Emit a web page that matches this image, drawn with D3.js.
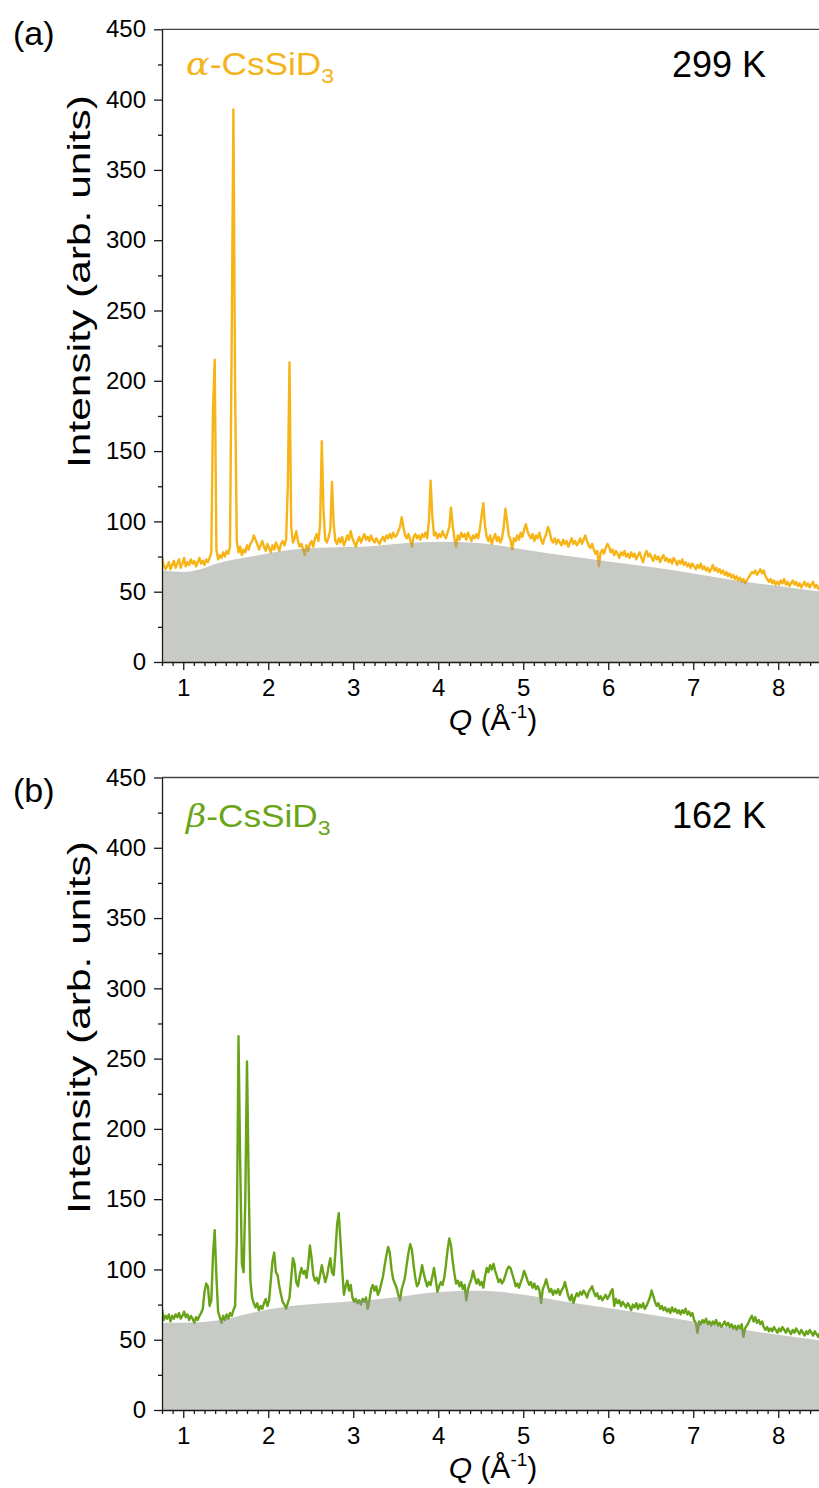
<!DOCTYPE html>
<html>
<head>
<meta charset="utf-8">
<script src="https://cdn.jsdelivr.net/npm/d3@7"></script>
<style>
  body { margin: 0; background: #fff; }
  svg { display: block; }
  text { font-family: "Liberation Sans", Arial, sans-serif; fill: #000; }
</style>
</head>
<body>
<svg id="fig" width="819" height="1488"></svg>
<script>
// Neutron diffraction patterns of CsSiD3, sampled on a uniform Q grid
const qStart = 0.75;
const qStep = 0.02;

// alpha phase, 299 K
const alphaIntensity = [
  75,69,66,68,71,66,69,72,67,70,
  73,67,70,74,68,71,69,73,70,72,
  68,71,74,70,72,69,73,71,74,78,
  180,215,80,73,76,74,78,75,79,77,
  82,230,393,195,86,78,82,76,80,78,
  83,80,84,86,90,87,84,80,83,86,
  82,79,84,81,78,83,80,85,82,79,
  84,86,83,87,125,213,96,85,88,93,
  86,82,84,80,76,83,79,84,86,82,
  88,91,86,98,157,108,87,85,89,94,
  128,98,86,84,88,85,89,83,86,90,
  87,93,88,85,82,86,89,85,88,91,
  87,89,86,90,87,85,88,86,84,87,
  89,86,90,88,91,88,92,89,90,93,
  96,103,96,90,88,91,87,82,89,91,
  88,90,87,91,89,92,88,100,129,104,
  90,92,88,91,89,93,90,88,92,96,
  110,97,88,82,90,87,92,89,91,87,
  92,89,86,90,88,91,88,95,104,113,
  97,89,86,90,84,88,91,86,89,85,
  88,96,109,100,90,87,80,88,86,90,
  87,92,89,94,98,93,90,88,91,86,
  90,88,92,87,84,88,91,96,93,87,
  85,88,84,87,85,83,87,84,86,82,
  85,88,84,86,83,85,88,84,87,90,
  86,83,81,84,80,77,79,68,78,80,
  77,81,84,82,78,80,76,79,77,74,
  78,76,79,75,77,74,78,75,77,73,
  76,78,74,71,76,79,75,77,74,72,
  76,73,75,71,74,76,72,74,71,73,
  70,74,72,69,72,70,73,69,71,68,
  70,67,70,68,66,69,67,70,66,68,
  65,67,64,66,69,65,67,64,66,63,
  65,62,64,61,63,60,62,59,61,58,
  60,57,59,56,58,60,62,64,63,65,
  62,64,66,63,65,61,59,57,59,56,
  58,55,57,55,58,56,59,55,57,54,
  56,58,55,57,54,56,53,55,57,54,
  56,53,55,57,53,55,52,54,55
];

// beta phase, 162 K
const betaIntensity = [
  72,64,67,65,68,63,67,65,68,66,
  69,65,67,70,66,68,64,67,65,62,
  66,64,67,69,72,84,90,88,74,78,
  110,128,95,70,66,62,67,64,68,65,
  69,67,71,74,120,266,175,104,98,150,
  248,160,92,80,76,73,76,71,74,72,
  76,79,74,78,92,106,112,98,96,88,
  82,77,75,72,76,80,94,108,104,91,
  88,96,101,97,99,94,103,117,108,96,
  92,94,90,96,103,97,91,95,102,108,
  98,96,112,132,140,120,100,82,88,92,
  85,89,80,77,79,76,78,75,79,77,
  80,72,78,86,89,85,88,82,85,90,
  95,103,110,116,112,100,93,90,87,82,
  78,86,90,95,104,112,118,114,103,94,
  88,90,96,103,97,92,88,91,89,95,
  101,93,84,88,91,89,94,103,114,122,
  117,106,97,90,92,88,91,86,89,78,
  86,90,93,99,94,90,93,89,91,87,
  95,101,98,103,100,104,99,95,91,93,
  90,92,96,100,102,101,97,93,88,90,
  87,91,94,99,96,92,89,91,87,90,
  86,88,85,76,86,89,93,88,84,86,
  82,85,83,86,82,85,87,91,86,81,
  78,82,76,80,83,81,84,82,85,83,
  80,84,86,88,84,81,83,79,81,78,
  80,82,79,81,84,86,74,79,76,78,
  74,77,75,73,76,74,71,75,73,76,
  72,75,73,76,72,74,77,80,85,81,
  77,74,76,72,74,71,73,70,72,69,
  73,70,72,69,71,68,71,69,72,68,
  70,67,69,64,62,55,63,61,64,62,
  65,61,63,60,63,61,64,60,62,59,
  61,63,60,62,59,61,58,60,57,60,
  58,61,52,58,60,62,65,67,63,66,
  62,64,61,63,59,57,59,56,58,56,
  59,57,55,58,56,59,57,55,58,56,
  54,57,55,58,56,54,57,55,53,56,
  54,57,55,53,56,54,52,55,54
];

// Smooth background (shaded) under each pattern
const alphaBgQ = [0.75, 1.0, 1.2, 1.4, 1.8, 2.3, 2.7, 3.1, 3.5, 4.0, 4.5, 5.0, 5.5, 6.0, 6.5, 7.0, 7.5, 8.0, 8.5];
const alphaBg  = [65, 64, 66, 70, 75, 80, 81.5, 82, 84, 85.5, 84.5, 80, 75.5, 71.5, 67.5, 63, 58, 54, 50];
const betaBgQ  = [0.75, 1.2, 1.45, 1.8, 2.2, 2.8, 3.2, 3.6, 4.0, 4.5, 5.0, 5.5, 6.0, 6.5, 7.0, 7.5, 8.0, 8.5];
const betaBg   = [62, 62.5, 64, 69, 73.5, 76.5, 78.3, 81, 84, 84.8, 82, 77, 72.5, 67.8, 63, 58, 53.5, 49.5];

// Axis ranges and tick labels
const qDomain = [0.75, 8.5];
const intensityDomain = [0, 450];
const qTicks = [1, 2, 3, 4, 5, 6, 7, 8];
const intensityTicks = [0, 50, 100, 150, 200, 250, 300, 350, 400, 450];

const panels = [
  { letter: "(a)", greek: "\u03B1", temp: "299 K", color: "#F7B416", labelColor: "#F5B31B",
    intensity: alphaIntensity, bgQ: alphaBgQ, bg: alphaBg,
    top: 29.3, bottom: 662, letterY: 45, labelY: 75, tempY: 77, titleY: 281.5 },
  { letter: "(b)", greek: "\u03B2", temp: "162 K", color: "#68A318", labelColor: "#6AA517",
    intensity: betaIntensity, bgQ: betaBgQ, bg: betaBg,
    top: 777.5, bottom: 1410, letterY: 802, labelY: 827, tempY: 828, titleY: 1027.5 }
];

const svg = d3.select("#fig");
const left = 162;
const right = 162 + (qDomain[1] - qDomain[0]) * 85;
const axisColor = "#1a1a1a";
const sans = '"Liberation Sans", Arial, sans-serif';

panels.forEach((p, k) => {
  const x = d3.scaleLinear().domain(qDomain).range([left, right]);
  const y = d3.scaleLinear().domain(intensityDomain).range([p.bottom, p.top]);

  const pts = p.intensity.map((v, i) => ({ q: qStart + i * qStep, v }));
  const bgPts = p.bgQ.map((q, i) => ({ q, v: p.bg[i] }));

  const clipId = "clip" + k;
  svg.append("clipPath").attr("id", clipId)
    .append("rect").attr("x", left).attr("y", p.top)
    .attr("width", right - left).attr("height", p.bottom - p.top);

  const plot = svg.append("g").attr("clip-path", `url(#${clipId})`);

  // measured pattern
  plot.append("path")
    .datum(pts)
    .attr("fill", "none")
    .attr("stroke", p.color)
    .attr("stroke-width", 2.4)
    .attr("stroke-linejoin", "round")
    .attr("d", d3.line().x(d => x(d.q)).y(d => y(d.v)));

  // background, translucent so the pattern shows through where it dips
  plot.append("path")
    .datum(bgPts)
    .attr("fill", "#91958D")
    .attr("fill-opacity", 0.5)
    .attr("d", d3.area().curve(d3.curveMonotoneX)
      .x(d => x(d.q)).y0(y(0)).y1(d => y(d.v)));

  // frame: top border line
  svg.append("line")
    .attr("x1", left).attr("x2", 819).attr("y1", p.top).attr("y2", p.top)
    .attr("stroke", "#444").attr("stroke-width", 1.3);

  // y axis
  const yMinor = d3.range(25, 450, 50);
  svg.append("g").attr("transform", `translate(${left},0)`)
    .call(d3.axisLeft(y).tickValues(yMinor).tickSize(4).tickFormat(""))
    .call(g => g.select(".domain").remove());
  const yAxis = svg.append("g").attr("transform", `translate(${left},0)`)
    .call(d3.axisLeft(y).tickValues(intensityTicks).tickSize(8).tickPadding(8).tickSizeOuter(0));
  yAxis.selectAll("text").style("font-size", "24px").attr("fill", "#000")
    .style("font-family", sans);

  // x axis
  const xMinor = d3.range(6, 69).map(n => n / 8).filter(v => v % 1 !== 0);
  svg.append("g").attr("transform", `translate(0,${p.bottom})`)
    .call(d3.axisBottom(x).tickValues(xMinor).tickSize(4).tickFormat(""))
    .call(g => g.select(".domain").remove());
  const xAxis = svg.append("g").attr("transform", `translate(0,${p.bottom})`)
    .call(d3.axisBottom(x).tickValues(qTicks).tickSize(8).tickPadding(9).tickSizeOuter(0));
  xAxis.selectAll("text").style("font-size", "24px").attr("fill", "#000")
    .style("font-family", sans);

  svg.selectAll(".domain, .tick line").attr("stroke", axisColor).attr("stroke-width", 1.3);

  // axis titles
  svg.append("text")
    .attr("transform", `translate(90,${p.titleY}) rotate(-90)`)
    .attr("text-anchor", "middle")
    .attr("textLength", 373)
    .attr("lengthAdjust", "spacingAndGlyphs")
    .style("font-size", "32px")
    .text("Intensity (arb. units)");

  const qt = svg.append("text")
    .attr("x", 493).attr("y", p.bottom + 68)
    .attr("text-anchor", "middle")
    .style("font-size", "30px");
  qt.append("tspan").style("font-style", "italic").text("Q");
  qt.append("tspan").text(" (\u00C5");
  qt.append("tspan").attr("dy", -12).style("font-size", "19px").text("-1");
  qt.append("tspan").attr("dy", 12).text(")");

  // panel letter
  svg.append("text").attr("x", 13).attr("y", p.letterY)
    .style("font-size", "34px").text(p.letter);

  // phase label
  const pl = svg.append("g").attr("transform", `translate(186,${p.labelY}) scale(1.1,1)`)
    .append("text").attr("x", 0).attr("y", 0)
    .style("font-size", "32px").style("fill", p.labelColor);
  pl.append("tspan").style("font-style", "italic")
    .style("font-family", '"DejaVu Serif", serif').text(p.greek);
  pl.append("tspan").text("-CsSiD");
  pl.append("tspan").attr("dy", 8).style("font-size", "21px").text("3");

  // temperature
  svg.append("text").attr("x", 766).attr("y", p.tempY)
    .attr("text-anchor", "end")
    .style("font-size", "36px").text(p.temp);
});
</script>
</body>
</html>
